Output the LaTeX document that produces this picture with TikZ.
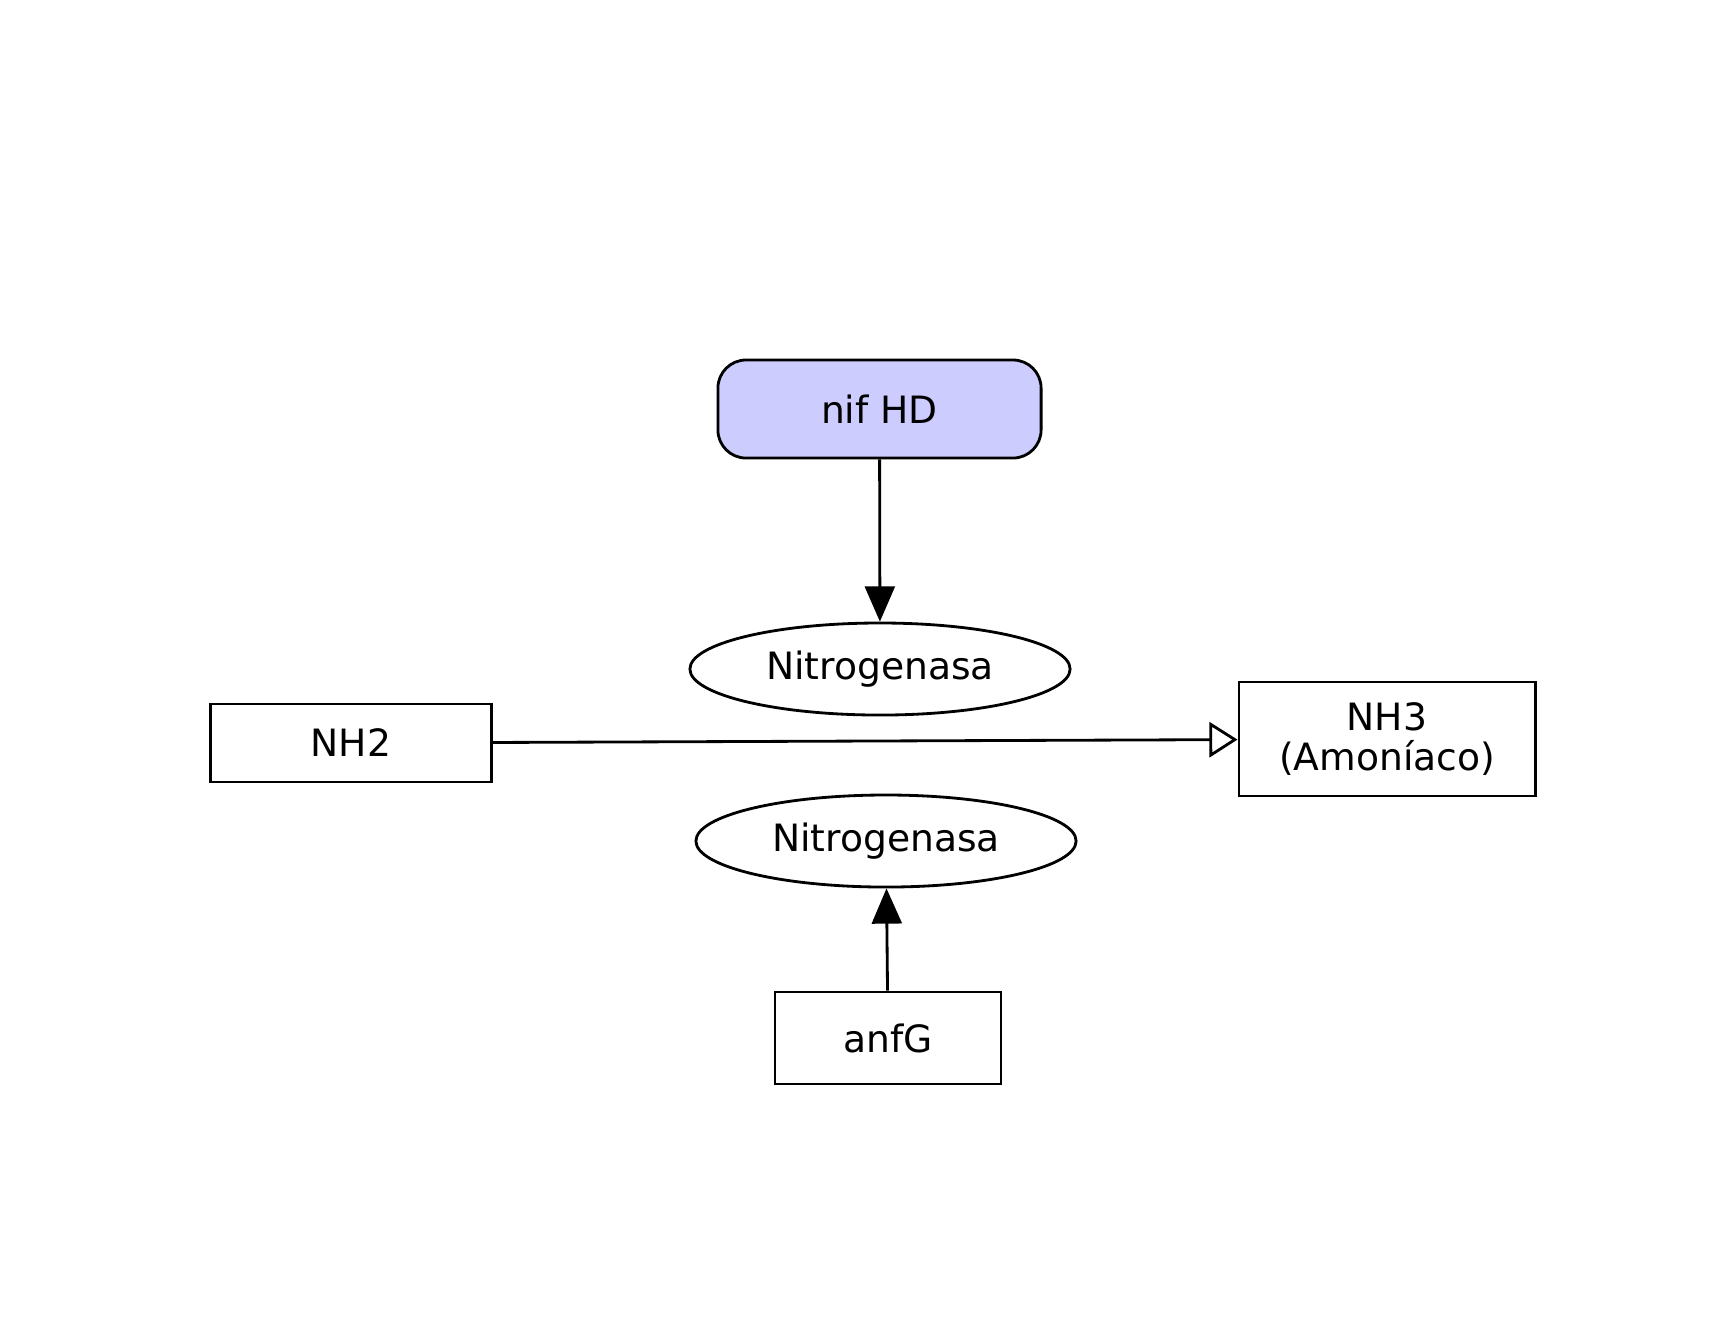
\documentclass[tikz,border=0pt]{standalone}
\usepackage{fontspec}
\setmainfont{DejaVu Sans}
\usepackage{xcolor}
\definecolor{GeneBlue}{HTML}{CCCCFF}
\usetikzlibrary{shapes.geometric,arrows.meta,positioning}

\begin{document}
\begin{tikzpicture}[x=0.01cm, y=-0.01cm, line width=0.8pt,
    gene/.style={rectangle, draw=black, fill=GeneBlue, rounded corners=8pt, minimum width=3.23cm, minimum height=0.98cm, font=\fontsize{10.7}{11.6}\selectfont},
    enzyme/.style={ellipse, draw=black, fill=white, minimum width=3.80cm, minimum height=0.92cm, inner sep=0pt, font=\fontsize{10.7}{11.6}\selectfont},
    compound/.style={rectangle, draw=black, fill=white, align=center, font=\fontsize{10.7}{11.6}\selectfont},
    act/.style={-{Triangle[length=10pt, width=8.5pt]}},
    conv/.style={-{Triangle[open, length=8pt, width=10pt]}}]

    \useasboundingbox (0,0) rectangle (1719,1341);

    \node [gene] (nifhd) at (879.5,409) {nif HD};
    \node [enzyme] (nitroA) at (880,669) {Nitrogenasa};
    \node [compound, minimum width=2.81cm, minimum height=0.78cm] (nh2) at (351,743) {NH2};
    \node [compound, minimum width=2.96cm, minimum height=1.14cm] (nh3) at (1387,739) {NH3\\(Amoníaco)};
    \node [enzyme] (nitroB) at (886,841) {Nitrogenasa};
    \node [compound, minimum width=2.26cm, minimum height=0.92cm] (anfg) at (888,1038) {anfG};

    \draw [act] (nifhd) -- (nitroA);
    \draw [conv] (nh2) -- (nh3);
    \draw [act] (anfg) -- (nitroB);
\end{tikzpicture}
\end{document}
